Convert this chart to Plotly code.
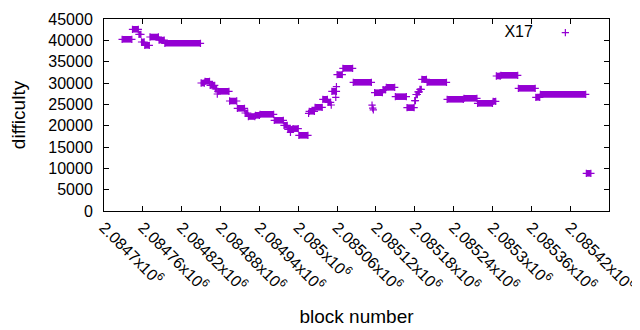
import plotly.graph_objects as go

# Runs of constant difficulty: first block, last block, difficulty
run_start = [2084728, 2084744, 2084754, 2084758, 2084763, 2084771, 2084785, 2084794,
             2084850, 2084856, 2084864, 2084872, 2084875, 2084876, 2084894, 2084906,
             2084918, 2084923, 2084934, 2084941, 2084963, 2084978, 2084984, 2084988,
             2084992, 2085001, 2085016, 2085017, 2085026, 2085038, 2085046, 2085051,
             2085052, 2085058, 2085059, 2085060, 2085069, 2085085, 2085114, 2085115,
             2085116, 2085118, 2085131, 2085136, 2085150, 2085168, 2085180, 2085182,
             2085185, 2085188, 2085191, 2085199, 2085230, 2085256, 2085277, 2085301,
             2085306, 2085313, 2085340, 2085367, 2085374, 2085445]
run_end = [2084743, 2084753, 2084757, 2084762, 2084770, 2084784, 2084793, 2084849,
           2084855, 2084863, 2084871, 2084874, 2084875, 2084893, 2084905, 2084917,
           2084922, 2084933, 2084940, 2084962, 2084977, 2084983, 2084991, 2084988,
           2085000, 2085015, 2085016, 2085025, 2085037, 2085045, 2085050, 2085051,
           2085059, 2085058, 2085059, 2085068, 2085084, 2085113, 2085114, 2085115,
           2085116, 2085130, 2085135, 2085149, 2085167, 2085179, 2085181, 2085184,
           2085187, 2085190, 2085198, 2085229, 2085255, 2085276, 2085300, 2085305,
           2085312, 2085339, 2085366, 2085373, 2085444, 2085452]
run_value = [40240, 42590, 41400, 39610, 38830, 40780, 40050, 39300,
             30000, 30400, 29460, 28600, 27420, 28050, 25780, 24070,
             22970, 22150, 22430, 22660, 21250, 20080, 19140, 18440,
             19300, 17740, 22900, 23370, 24300, 26180, 25470, 24840,
             28050, 26640, 29140, 31950, 33440, 30160, 24800, 24100,
             23700, 27730, 28430, 28990, 26800, 24220, 25850, 27300,
             27900, 28500, 30870, 30160, 26180, 26410, 25240, 25710,
             31640, 31800, 28750, 26640, 27340, 8830]

x_tickvals = [2084700, 2084760, 2084820, 2084880, 2084940, 2085000, 2085060,
              2085120, 2085180, 2085240, 2085300, 2085360, 2085420, 2085480]
x_ticklabels = ["2.0847", "2.08476", "2.08482", "2.08488", "2.08494", "2.085", "2.08506",
                "2.08512", "2.08518", "2.08524", "2.0853", "2.08536", "2.08542", "2.08548"]
y_tickvals = [0, 5000, 10000, 15000, 20000, 25000, 30000, 35000, 40000, 45000]

series_name = "X17"
color = "#9400D3"
font = "Liberation Sans, Arial, sans-serif"

# line segments for runs
lx, ly = [], []
for s, e, v in zip(run_start, run_end, run_value):
    lx += [s, e, None]
    ly += [v, v, None]
# cross markers at run ends
mx, my = [], []
for s, e, v in zip(run_start, run_end, run_value):
    mx.append(s); my.append(v)
    if e != s:
        mx.append(e); my.append(v)

fig = go.Figure()
fig.add_trace(go.Scatter(x=lx, y=ly, mode="lines", line=dict(color=color, width=6.6),
                         showlegend=False, hoverinfo="skip", connectgaps=False))
fig.add_trace(go.Scatter(x=mx, y=my, mode="markers", name=" ",
                         marker=dict(symbol="cross-thin", size=5.2,
                                     line=dict(color=color, width=1.2), color=color),
                         showlegend=True))

# the page body adds an 8px offset; margins compensate for it
fig.update_layout(
    template="none",
    width=640, height=330,
    margin=dict(l=96, r=39, t=11, b=127, autoexpand=False),
    paper_bgcolor="white", plot_bgcolor="white",
    font=dict(family=font, size=16, color="black"),
    showlegend=True,
    legend=dict(x=0.789, y=0.928, xanchor="left", yanchor="middle",
                bgcolor="rgba(0,0,0,0)", borderwidth=0,
                title=dict(text=series_name + "&nbsp;", side="left", font=dict(size=16)),
                font=dict(size=16)),
    xaxis=dict(range=[2084700, 2085480], tickmode="array", tickvals=x_tickvals,
               ticktext=[t + "x10<sup>6</sup>" for t in x_ticklabels],
               tickangle=45, ticks="inside", ticklen=5, tickcolor="black",
               showline=True, linecolor="black", linewidth=1, mirror="ticks",
               showgrid=False, zeroline=False, automargin=False,
               title=dict(text="block number", standoff=16)),
    yaxis=dict(range=[0, 45000], tickmode="array", tickvals=y_tickvals, tickformat="d",
               ticks="inside", ticklen=5, tickcolor="black",
               showline=True, linecolor="black", linewidth=1, mirror="ticks",
               showgrid=False, zeroline=False, automargin=False, ticklabelstandoff=7,
               title=dict(text="difficulty", standoff=19)),
)

fig.write_html("out.html")
